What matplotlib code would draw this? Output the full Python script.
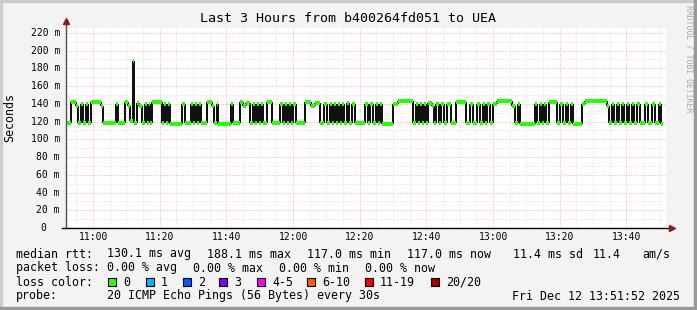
import numpy as np
import matplotlib
matplotlib.use("Agg")
import matplotlib.pyplot as plt
from matplotlib.patches import Rectangle
from matplotlib.lines import Line2D

W, H = 697, 310
MONO = "DejaVu Sans Mono"

# median rtt as runs: start minute (from 10:51:52) and level in ms
run_start = [0.2, 1.5, 3.0, 3.6, 4.5, 5.1, 6.0, 6.6, 7.5, 10.5, 11.1, 15.0, 15.6, 17.7, 18.6,
             19.2, 20.1, 20.4, 21.3, 21.9, 22.8, 23.7, 24.3, 24.9, 25.2, 25.8, 28.8, 29.4, 30.0,
             30.6, 31.2, 34.8, 35.7, 37.5, 38.1, 38.7, 39.3, 39.9, 40.5, 42.3, 43.8, 44.4, 45.3,
             45.6, 49.5, 50.1, 52.2, 53.1, 54.0, 55.2, 56.1, 56.7, 57.3, 57.9, 58.5, 59.1, 60.3,
             61.8, 64.2, 65.1, 65.7, 66.3, 66.9, 67.5, 68.1, 69.0, 71.7, 73.5, 74.7, 76.2, 77.4,
             78.3, 79.2, 79.8, 80.4, 81.0, 81.6, 82.2, 82.8, 83.4, 84.3, 84.9, 85.8, 86.7, 89.7,
             90.6, 91.2, 92.1, 93.0, 93.6, 94.2, 94.8, 98.1, 99.6, 104.1, 105.0, 105.6, 106.2,
             106.8, 107.4, 108.0, 108.6, 109.8, 110.4, 111.0, 111.9, 112.5, 113.4, 114.3, 115.5,
             117.0, 120.0, 121.2, 122.1, 123.3, 124.2, 125.1, 125.7, 126.3, 127.2, 128.1, 129.3,
             133.8, 134.7, 135.6, 136.2, 140.7, 141.3, 142.2, 142.8, 143.4, 144.0, 144.9, 147.3,
             148.2, 149.1, 150.0, 150.6, 151.5, 152.1, 154.8, 155.7, 162.3, 162.9, 163.8, 164.4,
             165.3, 165.9, 166.8, 167.4, 168.3, 168.9, 169.8, 170.4, 171.3, 172.2, 173.7, 174.6,
             175.8, 176.7, 177.9, 178.5]
run_level = [118, 142, 137, 118, 140, 118, 140, 118, 142, 137, 118, 140, 118, 142, 137,
             121, 188, 118, 141, 138, 118, 140, 118, 140, 118, 142, 118, 140, 118,
             140, 117, 140, 118, 140, 118, 140, 118, 140, 118, 142, 138, 118, 140,
             117, 140, 118, 142, 138, 141, 118, 140, 118, 140, 118, 140, 118, 142,
             118, 140, 118, 140, 118, 140, 118, 140, 118, 142, 138, 141, 118, 140,
             118, 140, 118, 140, 118, 140, 118, 140, 118, 141, 118, 140, 118, 140,
             118, 140, 118, 140, 118, 140, 117, 140, 143, 118, 140, 118, 140,
             118, 140, 118, 141, 138, 118, 140, 118, 140, 118, 140, 118,
             142, 118, 140, 118, 140, 118, 140, 118, 140, 118, 140, 143,
             138, 118, 140, 117, 140, 118, 140, 118, 140, 118, 142, 118,
             140, 118, 140, 118, 140, 117, 140, 143, 138, 118, 140, 118,
             140, 118, 140, 118, 140, 118, 140, 118, 140, 118, 140, 118,
             140, 118, 140, 117]
run_end = 179.1

xtick_min = [8.13, 28.13, 48.13, 68.13, 88.13, 108.13, 128.13, 148.13, 168.13]
xtick_lab = ["11:00", "11:20", "11:40", "12:00", "12:20", "12:40", "13:00", "13:20", "13:40"]
yticks = [0, 20, 40, 60, 80, 100, 120, 140, 160, 180, 200, 220]

loss_labels = ["0", "1", "2", "3", "4-5", "6-10", "11-19", "20/20"]
loss_colors = ["#26ff00", "#00b8ff", "#0059ff", "#7e00ff", "#ff00ff", "#ff5e00", "#ff0000", "#a10000"]
loss_box_x = [108, 146, 183, 219, 257, 307, 365, 431]

rtt_text = ["130.1 ms avg", "188.1 ms max", "117.0 ms min", "117.0 ms now", "11.4 ms sd", "11.4", "am/s"]
rtt_x = [107, 207, 307, 407, 513, 593, 642]
loss_text = ["0.00 % avg", "0.00 % max", "0.00 % min", "0.00 % now"]
loss_x = [107, 193, 279, 365]


def fx(x):
    return x / W


def fy(y):
    return 1 - y / H


fig = plt.figure(figsize=(W / 100, H / 100), dpi=100, facecolor="#f3f3f3")

# frame shading
fig.patches.append(Rectangle((0, fy(2)), 1, 2 / H, transform=fig.transFigure, color="#cbcbcb", zorder=0))
fig.patches.append(Rectangle((0, 0), 2 / W, 1, transform=fig.transFigure, color="#cbcbcb", zorder=0))
fig.patches.append(Rectangle((fx(694), 0), 3 / W, 1, transform=fig.transFigure, color="#999999", zorder=0))
fig.patches.append(Rectangle((0, 0), 1, 3 / H, transform=fig.transFigure, color="#999999", zorder=0))

ax = fig.add_axes([fx(66), fy(228), 600 / W, 200 / H])
ax.set_facecolor("white")
ax.set_xlim(0, 180)
ax.set_ylim(0, 225.5)
for s in ax.spines.values():
    s.set_visible(False)
ax.set_xticks([])
ax.set_yticks([])

dots = (0, (1, 1.4))
for m in np.arange(3.13, 180, 5):
    major = any(abs(m - t) < 0.01 for t in xtick_min)
    ax.axvline(m, color="#f7b4b4" if major else "#e0e0e0", lw=0.7, ls=dots, zorder=1)
for v in range(10, 226, 10):
    ax.axhline(v, color="#f7b4b4" if v % 20 == 0 else "#e0e0e0", lw=0.7, ls=dots, zorder=1)

# median trace: black jumps (smoke) and green levels
ends = run_start[1:] + [run_end]
ax.vlines(run_start[1:], run_level[:-1], run_level[1:], color="#111111", lw=1.2,
          antialiased=False, zorder=3)
ax.hlines(run_level, run_start, ends, color="#26ff00", lw=1.45, antialiased=False, zorder=4)

# axes with arrows
fig.add_artist(Line2D([fx(66), fx(66)], [fy(228), fy(22)], color="#505050", lw=1))
fig.add_artist(Line2D([fx(62), fx(670)], [fy(228), fy(228)], color="black", lw=1))
fig.add_artist(Line2D([fx(66)], [fy(21)], marker="^", ms=4.5, color="#8b1a1a", mec="#8b1a1a"))
fig.add_artist(Line2D([fx(672)], [fy(228)], marker=">", ms=4.5, color="#8b1a1a", mec="#8b1a1a"))

ytr = ax.get_yaxis_transform()
for v in yticks:
    if v == 0:
        ax.text(-0.0325, v, "0", transform=ytr, ha="right", va="center", fontsize=7, family=MONO)
    else:
        ax.text(-0.01, v, f"{v} m", transform=ytr, ha="right", va="center", fontsize=7, family=MONO)
for t, lab in zip(xtick_min, xtick_lab):
    fig.text(fx(66 + t / 0.3), fy(237), lab, ha="center", va="center", fontsize=7, family=MONO)

fig.text(fx(348), fy(19), "Last 3 Hours from b400264fd051 to UEA", ha="center", va="center",
         fontsize=9.6, family=MONO)
fig.text(fx(10), fy(117), "Seconds", rotation=90, ha="center", va="center", fontsize=8.4, family=MONO)
fig.text(fx(688.5), fy(5), "RRDTOOL / TOBI OETIKER", rotation=270, ha="center", va="top",
         fontsize=5.9, family=MONO, color="#a8a8a8")

fs = 8.4
fig.text(fx(16), fy(254), "median rtt:", ha="left", va="center", fontsize=fs, family=MONO)
for s, x in zip(rtt_text, rtt_x):
    fig.text(fx(x), fy(254), s, ha="left", va="center", fontsize=fs, family=MONO)
fig.text(fx(16), fy(268), "packet loss:", ha="left", va="center", fontsize=fs, family=MONO)
for s, x in zip(loss_text, loss_x):
    fig.text(fx(x), fy(268), s, ha="left", va="center", fontsize=fs, family=MONO)
fig.text(fx(16), fy(282), "loss color:", ha="left", va="center", fontsize=fs, family=MONO)
for lab, c, x in zip(loss_labels, loss_colors, loss_box_x):
    fig.patches.append(Rectangle((fx(x), fy(286)), 8 / W, 8 / H, transform=fig.transFigure,
                                 facecolor=c, edgecolor="black", lw=0.8))
    fig.text(fx(x + 15), fy(282), lab, ha="left", va="center", fontsize=fs, family=MONO)
fig.text(fx(16), fy(296), "probe:", ha="left", va="center", fontsize=fs, family=MONO)
fig.text(fx(107), fy(296), "20 ICMP Echo Pings (56 Bytes) every 30s", ha="left", va="center",
         fontsize=fs, family=MONO)
fig.text(fx(680), fy(296), "Fri Dec 12 13:51:52 2025", ha="right", va="center", fontsize=fs, family=MONO)

fig.savefig("out.png", dpi=100, facecolor=fig.get_facecolor())
